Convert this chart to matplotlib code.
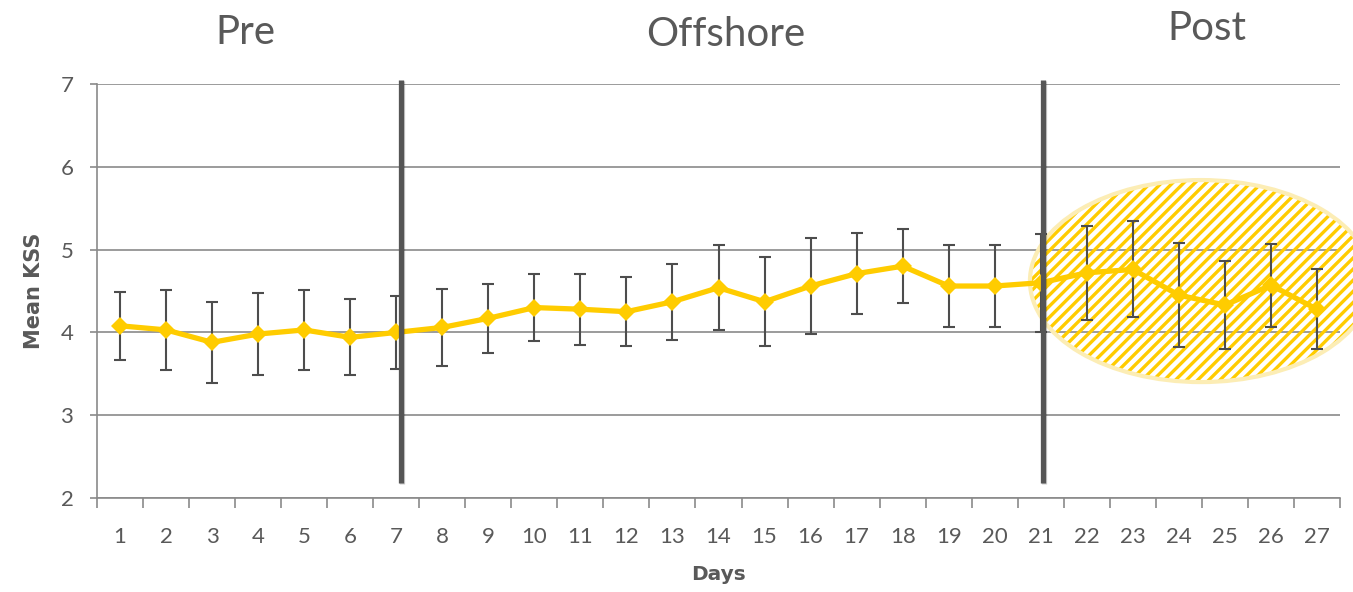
import matplotlib
matplotlib.use("Agg")
import matplotlib.pyplot as plt
from matplotlib.patches import Ellipse
import matplotlib.patheffects as pe

# Daily mean Karolinska Sleepiness Scale scores with standard deviations
days = list(range(1, 28))
mean_kss = [4.08, 4.03, 3.88, 3.98, 4.03, 3.94, 4.00, 4.06, 4.17, 4.30,
            4.28, 4.25, 4.37, 4.54, 4.37, 4.56, 4.71, 4.80, 4.56, 4.56,
            4.60, 4.72, 4.76, 4.45, 4.33, 4.57, 4.28]
sd_kss = [0.41, 0.48, 0.49, 0.50, 0.48, 0.46, 0.44, 0.47, 0.42, 0.40,
          0.43, 0.42, 0.46, 0.51, 0.54, 0.58, 0.49, 0.45, 0.50, 0.50,
          0.59, 0.57, 0.58, 0.63, 0.53, 0.50, 0.48]

phase_names = ["Pre", "Offshore", "Post"]
phase_label_x = [3.72, 14.15, 24.6]
phase_label_y = [7.62, 7.60, 7.67]
phase_boundaries = [7.1, 21.05]

GRAY = "#595959"
GRID = "#8a8a8a"
YELLOW = "#FFCC00"

plt.rcParams["font.family"] = ["Lato", "DejaVu Sans"]
plt.rcParams["hatch.linewidth"] = 2.4

fig = plt.figure(figsize=(13.53, 5.92), dpi=100)
ax = fig.add_axes([97 / 1353, (592 - 498) / 592, (1340 - 97) / 1353, (498 - 84) / 592])

ax.set_xlim(0.5, 27.5)
ax.set_ylim(2, 7)

# horizontal grid
ax.set_yticks([2, 3, 4, 5, 6, 7])
ax.yaxis.grid(True, color=GRID, linewidth=1.2)
ax.set_axisbelow(True)
for side in ("top", "right"):
    ax.spines[side].set_visible(False)
for side in ("left", "bottom"):
    ax.spines[side].set_color(GRID)
    ax.spines[side].set_linewidth(1.2)

# category boundaries as major ticks, day numbers as minor tick labels
ax.set_xticks([d - 0.5 for d in days] + [27.5])
ax.set_xticklabels([])
ax.set_xticks(days, minor=True)
ax.set_xticklabels([str(d) for d in days], minor=True)
ax.tick_params(axis="x", which="major", length=7, width=1.2, color=GRID, direction="out")
ax.tick_params(axis="x", which="minor", length=0, pad=21, labelsize=16, labelcolor=GRAY)
ax.tick_params(axis="y", length=5, width=1.2, color=GRID, pad=12, labelsize=16, labelcolor=GRAY)

ax.set_xlabel("Days", fontsize=14.5, fontweight="bold", color=GRAY, labelpad=13,
              family="DejaVu Sans")
ax.set_ylabel("Mean KSS", fontsize=15, fontweight="bold", color=GRAY, labelpad=12,
              family="DejaVu Sans")

# hatched ellipse highlighting the post period
hatch = Ellipse((24.48, 4.62), 7.43, 2.44, facecolor="none", edgecolor=YELLOW,
                linewidth=0, hatch="///", zorder=1.5, clip_on=False)
ax.add_patch(hatch)
rim = Ellipse((24.48, 4.62), 7.43, 2.44, facecolor="none", edgecolor="#FCEDB5",
              linewidth=3, zorder=1.6, clip_on=False)
ax.add_patch(rim)

# error bars beneath the mean line
ax.errorbar(days, mean_kss, yerr=sd_kss, fmt="none", ecolor="#4d4d4d",
            elinewidth=1.5, capsize=4.5, capthick=1.5, zorder=2)
ax.plot(days, mean_kss, color=YELLOW, linewidth=3.8, marker="D",
        markersize=9, markeredgewidth=0, zorder=3)

# phase separators
ax.vlines(phase_boundaries, 2.18, 7.05, colors="#555555", linewidth=3.8,
          zorder=4, clip_on=False,
          path_effects=[pe.SimpleLineShadow(offset=(1, -1), shadow_color="#000000", alpha=0.2),
                        pe.Normal()])

for name, x, y in zip(phase_names, phase_label_x, phase_label_y):
    ax.text(x, y, name, ha="center", va="center", fontsize=29, color=GRAY,
            fontweight="normal", clip_on=False)

fig.savefig("out.png", dpi=100)
